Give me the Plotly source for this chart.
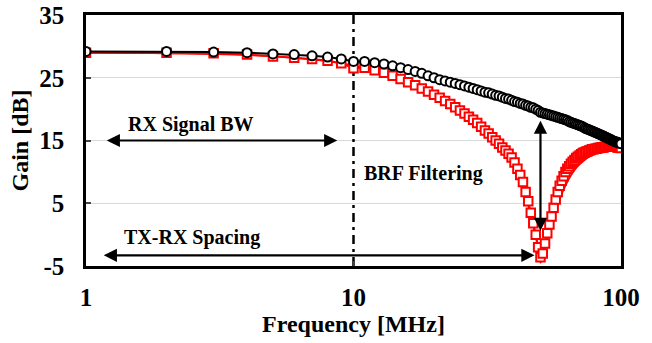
import numpy as np
import plotly.graph_objects as go

freq = list(range(1, 101))

gain_black = [29.2, 29.2, 29.1, 29.0, 28.8, 28.7, 28.5, 28.3, 28.0, 27.6,
              27.6, 27.4, 27.2, 26.9, 26.6, 26.3, 26.0, 25.7, 25.3, 25.0,
              24.7, 24.5, 24.3, 24.1, 23.9, 23.7, 23.5, 23.3, 23.1, 22.9,
              22.7, 22.6, 22.4, 22.2, 22.1, 21.9, 21.7, 21.6, 21.4, 21.2,
              21.1, 20.9, 20.8, 20.6, 20.5, 20.3, 20.2, 20.0, 19.8, 19.5,
              19.4, 19.3, 19.2, 19.1, 19.0, 18.9, 18.8, 18.7, 18.6, 18.5,
              18.4, 18.3, 18.2, 18.0, 17.9, 17.8, 17.7, 17.6, 17.5, 17.4,
              17.3, 17.2, 17.0, 16.9, 16.8, 16.7, 16.6, 16.5, 16.4, 16.3,
              16.2, 16.1, 16.0, 15.9, 15.8, 15.7, 15.6, 15.5, 15.4, 15.3,
              15.2, 15.1, 15.0, 14.9, 14.8, 14.8, 14.7, 14.6, 14.6, 14.5]

gain_red = [29.0, 29.0, 28.9, 28.7, 28.4, 28.2, 28.0, 27.7, 27.3, 26.5,
            26.6, 26.2, 25.8, 25.3, 24.8, 24.3, 23.8, 23.3, 22.8, 22.3,
            21.8, 21.3, 20.8, 20.3, 19.8, 19.3, 18.8, 18.3, 17.8, 17.2,
            16.6, 16.1, 15.5, 15.0, 14.5, 13.9, 13.4, 12.9, 12.3, 11.5,
            10.5, 9.5, 8.4, 6.8, 5.3, 3.5, 1.8, 0.0, -2.0, -3.6,
            -3.0, -1.4, 0.2, 1.6, 2.9, 4.3, 5.6, 6.8, 7.8, 8.6,
            9.3, 10.0, 10.5, 10.9, 11.3, 11.6, 11.9, 12.2, 12.4, 12.6,
            12.8, 13.0, 13.1, 13.2, 13.3, 13.4, 13.5, 13.6, 13.6, 13.7,
            13.7, 13.8, 13.8, 13.9, 13.9, 13.9, 14.0, 14.0, 14.0, 14.0,
            14.0, 14.0, 14.0, 14.0, 14.0, 14.0, 13.9, 13.9, 13.9, 13.8]

freq_sim = [1, 5, 10, 15, 20, 25, 30, 35, 40, 43, 46, 48, 49, 50, 51, 52, 54,
            56, 58, 60, 65, 70, 80, 90, 100]
gain_red_sim = [29.0, 28.4, 27.0, 25.0, 22.5, 20.0, 17.0, 14.0, 10.6, 7.4, 3.0,
                -0.5, -2.3, -4.5, -3.8, -2.5, 0.0, 2.4, 4.6, 6.4, 9.4, 11.2,
                12.9, 13.6, 13.8]

band_edge = 10
rx_bw = (1.18, 8.7, 15)
txrx = (1.15, 47.5, -3.3)
brf = (50, 18.4, 0.6)

FONT = "Liberation Serif"

fig = go.Figure()

fig.add_trace(go.Scatter(x=[band_edge, band_edge], y=[-5, 35], mode="lines",
                         line=dict(color="black", width=2.5, dash="9px,5px,3px,5px"),
                         showlegend=False, hoverinfo="skip"))

fig.add_trace(go.Scatter(x=freq_sim, y=gain_red_sim, mode="lines",
                         line=dict(color="#ff0000", width=1.5, shape="spline"),
                         showlegend=False))

fig.add_trace(go.Scatter(x=freq, y=gain_red, mode="lines+markers",
                         line=dict(color="#ff0000", width=2),
                         marker=dict(symbol="square", size=8.5, color="white",
                                     line=dict(color="#ff0000", width=2)),
                         showlegend=False))

fig.add_trace(go.Scatter(x=freq, y=gain_black, mode="lines+markers",
                         line=dict(color="black", width=2),
                         marker=dict(symbol="circle", size=9, color="white",
                                     line=dict(color="black", width=2)),
                         showlegend=False))

def darrow(x0, x1, y0, y1):
    fig.add_annotation(x=np.log10(x1), y=y1, ax=np.log10(x0), ay=y0,
                       xref="x", yref="y", axref="x", ayref="y", text="",
                       showarrow=True, arrowhead=2, startarrowhead=2,
                       arrowside="end+start", arrowsize=1.2, startarrowsize=1.2,
                       arrowwidth=2.2, arrowcolor="black")

darrow(rx_bw[0], rx_bw[1], rx_bw[2], rx_bw[2])
darrow(txrx[0], txrx[1], txrx[2], txrx[2])
darrow(brf[0], brf[0], brf[1], brf[2])

tfont = dict(family=FONT, size=20, color="black")
fig.add_annotation(x=np.log10(2.47), y=17.5, text="<b>RX Signal BW</b>",
                   showarrow=False, font=tfont)
fig.add_annotation(x=np.log10(2.49), y=-0.5, text="<b>TX-RX Spacing</b>",
                   showarrow=False, font=tfont)
fig.add_annotation(x=np.log10(18.2), y=9.8, text="<b>BRF Filtering</b>",
                   showarrow=False, font=tfont)

fig.update_layout(
    width=652, height=343,
    margin=dict(l=86, r=31, t=15, b=77, autoexpand=False),
    plot_bgcolor="white", paper_bgcolor="white",
    font=dict(family=FONT, color="black"),
    xaxis=dict(type="log", range=[0, 2], tickvals=[1, 10, 100],
               ticktext=["<b>1</b>", "<b>10</b>", "<b>100</b>"],
               tickfont=dict(family=FONT, size=25),
               showgrid=False, showline=True, linecolor="black", linewidth=2.5,
               mirror=True, ticks="inside", ticklen=5, tickwidth=2,
               ticklabelstandoff=7, automargin=False,
               title=dict(text="<b>Frequency [MHz]</b>",
                          font=dict(family=FONT, size=24), standoff=4),
               zeroline=False),
    yaxis=dict(range=[-5, 35], tickvals=[-5, 5, 15, 25, 35],
               ticktext=["<b>-5</b>", "<b>5</b>", "<b>15</b>", "<b>25</b>", "<b>35</b>"],
               tickfont=dict(family=FONT, size=25),
               showgrid=True, gridcolor="#d9d9d9", gridwidth=1,
               showline=True, linecolor="black", linewidth=2.5, mirror=True,
               ticks="inside", ticklen=5, tickwidth=2, ticklabelstandoff=14,
               automargin=False,
               title=dict(text="<b>Gain [dB]</b>",
                          font=dict(family=FONT, size=24), standoff=4),
               zeroline=False),
)

fig.write_html("out.html")
